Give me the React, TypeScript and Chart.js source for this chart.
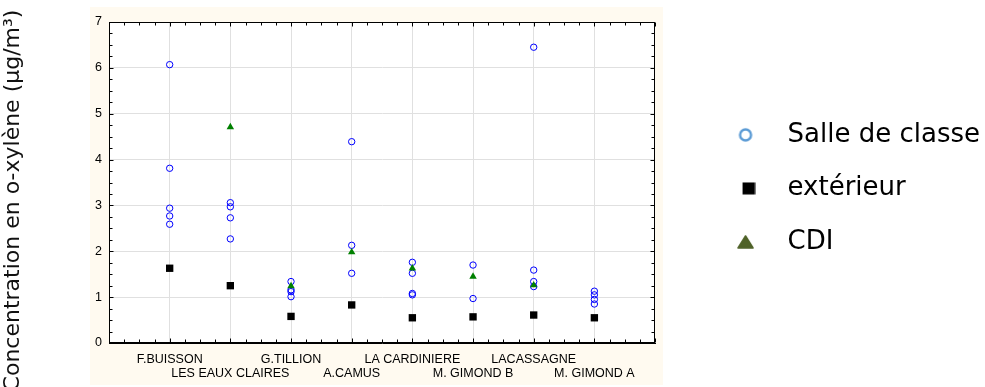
import React, { useEffect, useRef } from 'react';
import { Chart, registerables } from 'chart.js';

Chart.register(...registerables);

// ---------- data ----------
const categories = [
  'F.BUISSON',
  'LES EAUX CLAIRES',
  'G.TILLION',
  'A.CAMUS',
  'LA CARDINIERE',
  'M. GIMOND B',
  'LACASSAGNE',
  'M. GIMOND A',
];
const salleDeClasse = [
  [6.07, 3.81, 2.94, 2.77, 2.59],
  [3.06, 2.97, 2.73, 2.27],
  [1.34, 1.16, 1.12, 1.01],
  [4.39, 2.13, 1.52],
  [1.76, 1.52, 1.08, 1.05],
  [1.7, 0.97],
  [6.45, 1.59, 1.34, 1.23],
  [1.13, 1.05, 0.95, 0.85],
];
const exterieur = [1.63, 1.25, 0.58, 0.83, 0.55, 0.57, 0.61, 0.55];
const cdi = [null, 4.71, 1.24, 1.98, 1.63, 1.45, 1.26, null];
const yTickValues = [0, 1, 2, 3, 4, 5, 6, 7];
const seriesNames = ['Salle de classe', 'extérieur', 'CDI'];
const yTitle = 'Concentration en o-xylène (µg/m³)';

// ---------- styles ----------
const PANEL = '#fffaf0';
const GRID = '#e0e0e0';
const TICK_FONT = { family: '"Liberation Sans", Arial, sans-serif', size: 12.5, lineHeight: 1.1 };
const BIG_FONT = '"DejaVu Sans", Verdana, sans-serif';

function makeMarker(kind: string): HTMLCanvasElement {
  const c = document.createElement('canvas');
  if (kind === 'circle') {
    c.width = 16; c.height = 16;
    const g = c.getContext('2d')!;
    g.strokeStyle = '#5b9bd5';
    g.lineWidth = 2.4;
    g.beginPath();
    g.arc(8, 8, 5.5, 0, Math.PI * 2);
    g.stroke();
  } else if (kind === 'square') {
    c.width = 20; c.height = 13;
    const g = c.getContext('2d')!;
    g.fillStyle = '#000';
    g.fillRect(7, 0.5, 12.5, 12);
  } else {
    c.width = 17; c.height = 14;
    const g = c.getContext('2d')!;
    g.fillStyle = '#4f6228';
    g.strokeStyle = '#4f6228';
    g.lineJoin = 'round';
    g.lineWidth = 1.5;
    g.beginPath();
    g.moveTo(8.5, 1);
    g.lineTo(16, 13);
    g.lineTo(1, 13);
    g.closePath();
    g.fill();
    g.stroke();
  }
  return c;
}

const framePlugin = {
  id: 'frame',
  beforeDraw(chart: any) {
    const { ctx, chartArea: a } = chart;
    ctx.save();
    ctx.fillStyle = PANEL;
    ctx.fillRect(a.left - 19, a.top - 15, a.right - a.left + 27, a.bottom - a.top + 57);
    ctx.fillStyle = '#ffffff';
    ctx.fillRect(a.left, a.top, a.right - a.left, a.bottom - a.top);
    ctx.restore();
  },
  beforeDatasetsDraw(chart: any) {
    const { ctx, chartArea: a, scales } = chart;
    const x = scales.x;
    const y = scales.y;
    ctx.save();
    ctx.strokeStyle = '#000';
    ctx.lineWidth = 1;
    const L = Math.round(a.left) + 0.5;
    const R = Math.round(a.right) - 0.5;
    const T = Math.round(a.top) + 0.5;
    const B = Math.round(a.bottom) - 0.5;
    ctx.strokeRect(L, T, R - L, B - T);
    ctx.beginPath();
    for (let i = 0; i <= 36; i++) {
      const px = Math.round(x.getPixelForValue(i / 4)) + 0.5;
      const len = i % 4 === 0 ? 4 : 3;
      ctx.moveTo(px, B); ctx.lineTo(px, B - len);
      ctx.moveTo(px, T); ctx.lineTo(px, T + len);
    }
    for (let i = 0; i <= 28; i++) {
      const py = Math.round(y.getPixelForValue(i / 4)) + 0.5;
      const len = i % 4 === 0 ? 4 : 3;
      ctx.moveTo(L, py); ctx.lineTo(L + len, py);
      ctx.moveTo(R, py); ctx.lineTo(R - len, py);
    }
    ctx.stroke();
    ctx.restore();
  },
};

export default function App() {
  const ref = useRef<HTMLCanvasElement | null>(null);

  useEffect(() => {
    const canvas = ref.current;
    if (!canvas) return;
    const markers = [makeMarker('circle'), makeMarker('square'), makeMarker('triangle')];

    const chart = new Chart(canvas, {
      type: 'scatter',
      data: {
        datasets: [
          {
            label: seriesNames[0],
            data: salleDeClasse.flatMap((vals, i) => vals.map((v) => ({ x: i + 1, y: v }))),
            pointStyle: 'circle',
            pointRadius: 3.2,
            pointBorderWidth: 1,
            pointBorderColor: '#0000ff',
            pointBackgroundColor: 'rgba(0,0,0,0)',
            showLine: false,
            order: 3,
          },
          {
            label: seriesNames[1],
            data: exterieur.map((v, i) => ({ x: i + 1, y: v })),
            pointStyle: 'rect',
            pointRadius: 5.2,
            pointBorderWidth: 0,
            pointBorderColor: '#000',
            pointBackgroundColor: '#000',
            showLine: false,
            order: 2,
          },
          {
            label: seriesNames[2],
            data: cdi
              .map((v, i) => (v === null ? null : { x: i + 1, y: v }))
              .filter((p) => p !== null) as any,
            pointStyle: 'triangle',
            pointRadius: 4.3,
            pointBorderWidth: 0,
            pointBorderColor: '#008000',
            pointBackgroundColor: '#008000',
            showLine: false,
            order: 1,
          },
        ],
      },
      options: {
        responsive: false,
        animation: false,
        events: [],
        layout: { padding: { top: 0, right: -5, bottom: -14, left: 0 } },
        scales: {
          x: {
            type: 'linear',
            position: 'bottom',
            min: 0,
            max: categories.length + 1,
            afterBuildTicks: (s: any) => {
              s.ticks = categories.map((_, i) => ({ value: i + 1 }));
            },
            afterFit: (s: any) => {
              s.height = 58;
            },
            grid: { color: GRID, drawTicks: false, lineWidth: 1 },
            border: { display: true, color: '#000', width: 1 },
            ticks: {
              autoSkip: false,
              maxRotation: 0,
              minRotation: 0,
              padding: 10,
              color: '#000',
              font: TICK_FONT,
              callback: (_v: any, i: number) =>
                i % 2 === 0 ? [categories[i], ''] : ['', categories[i]],
            },
          },
          xTop: {
            type: 'linear',
            position: 'top',
            min: 0,
            max: categories.length + 1,
            grid: { display: false, drawTicks: false },
            border: { display: false },
            ticks: { display: false },
            afterFit: (s: any) => {
              s.height = 22;
            },
          },
          y: {
            type: 'linear',
            position: 'left',
            min: yTickValues[0],
            max: yTickValues[yTickValues.length - 1],
            afterBuildTicks: (s: any) => {
              s.ticks = yTickValues.map((v) => ({ value: v }));
            },
            afterFit: (s: any) => {
              s.width = 82.6;
            },
            grid: { color: GRID, drawTicks: false, lineWidth: 1 },
            border: { display: true, color: '#000', width: 1 },
            ticks: { padding: 7, color: '#000', font: TICK_FONT },
          },
          yR: {
            type: 'linear',
            position: 'right',
            min: 0,
            max: 7,
            grid: { display: false, drawTicks: false },
            border: { display: false },
            ticks: { display: false },
            afterFit: (s: any) => {
              s.width = 34;
            },
          },
        },
        plugins: {
          tooltip: { enabled: false },
          title: {
            display: true,
            text: yTitle,
            position: 'left',
            color: '#111',
            font: { family: BIG_FONT, size: 22, weight: 'normal' },
            padding: { top: 0, bottom: 0 },
          },
          legend: {
            position: 'right',
            align: 'start',
            maxWidth: 400,
            title: { display: true, text: '', font: { size: 12 }, padding: { top: 0, bottom: 80 } },
            labels: {
              usePointStyle: true,
              pointStyleWidth: 58,
              padding: 27.5,
              color: '#000',
              font: { family: BIG_FONT, size: 26 },
              generateLabels: () =>
                seriesNames.map((name, i) => ({
                  text: name,
                  pointStyle: markers[i] as any,
                  fillStyle: 'rgba(0,0,0,0)',
                  strokeStyle: 'rgba(0,0,0,0)',
                  lineWidth: 0,
                  hidden: false,
                  datasetIndex: i,
                  fontColor: '#000',
                })),
            },
          },
        },
      },
      plugins: [framePlugin],
    } as any);

    return () => chart.destroy();
  }, []);

  return (
    <div style={{ position: 'absolute', left: 0, top: 0, width: 985, height: 387, background: '#fff' }}>
      <canvas ref={ref} width={985} height={387} style={{ display: 'block', width: 985, height: 387 }} />
    </div>
  );
}
